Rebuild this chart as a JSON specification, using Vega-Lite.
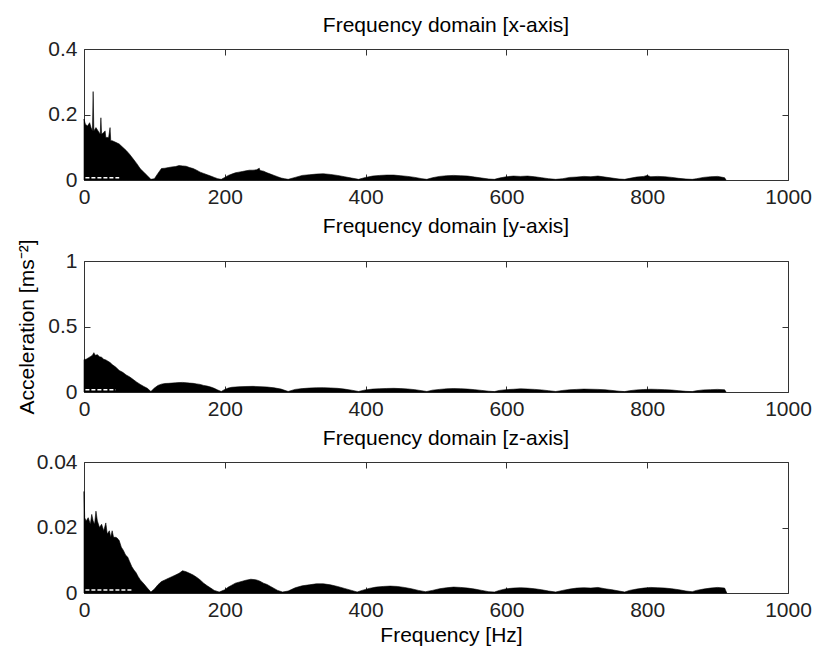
{
"$schema": "https://vega.github.io/schema/vega-lite/v6.json",
"padding": {"left": 16, "top": 14, "right": 10, "bottom": 2},
"spacing": 7,
"config": {
  "font": "Liberation Sans",
  "view": {"stroke": "#333", "strokeWidth": 1},
  "title": {"fontSize": 21, "fontWeight": "normal", "color": "#000", "offset": 2, "frame": "group", "dx": 10},
  "axis": {"grid": false, "domain": false, "tickSize": -6, "tickColor": "#333", "labelFontSize": 21, "labelColor": "#222", "labelFlush": false, "labelOverlap": false, "labelBound": false, "titleFontSize": 21, "titleFontWeight": "normal", "titleColor": "#000"},
  "axisX": {"format": "d"},
  "axisY": {"format": "~g"}
},
"datasets": {
"x": [
{"f":0,"a":0.186},{"f":2,"a":0.17},{"f":5,"a":0.165},{"f":8,"a":0.175},{"f":10,"a":0.16},{"f":12,"a":0.15},{"f":13,"a":0.27},{"f":14,"a":0.15},{"f":17,"a":0.16},{"f":20,"a":0.15},{"f":23,"a":0.14},{"f":24,"a":0.19},{"f":25,"a":0.14},{"f":28,"a":0.145},{"f":30,"a":0.15},{"f":31,"a":0.13},{"f":35,"a":0.13},{"f":37,"a":0.16},{"f":38,"a":0.12},{"f":40,"a":0.12},{"f":45,"a":0.115},{"f":50,"a":0.11},{"f":55,"a":0.1},{"f":60,"a":0.09},{"f":65,"a":0.078},{"f":70,"a":0.064},{"f":75,"a":0.05},{"f":80,"a":0.034},{"f":85,"a":0.024},{"f":90,"a":0.013},{"f":95,"a":0.002},{"f":100,"a":0.004},{"f":105,"a":0.02},{"f":110,"a":0.035},{"f":115,"a":0.036},{"f":120,"a":0.038},{"f":125,"a":0.04},{"f":130,"a":0.041},{"f":135,"a":0.044},{"f":140,"a":0.043},{"f":145,"a":0.042},{"f":150,"a":0.038},{"f":155,"a":0.035},{"f":160,"a":0.03},{"f":165,"a":0.024},{"f":170,"a":0.02},{"f":175,"a":0.016},{"f":180,"a":0.012},{"f":185,"a":0.008},{"f":190,"a":0.004},{"f":195,"a":0.002},{"f":200,"a":0.008},{"f":205,"a":0.014},{"f":210,"a":0.018},{"f":215,"a":0.022},{"f":220,"a":0.024},{"f":225,"a":0.026},{"f":230,"a":0.028},{"f":235,"a":0.03},{"f":240,"a":0.03},{"f":245,"a":0.031},{"f":249,"a":0.036},{"f":250,"a":0.029},{"f":255,"a":0.027},{"f":260,"a":0.022},{"f":265,"a":0.018},{"f":270,"a":0.014},{"f":275,"a":0.01},{"f":280,"a":0.006},{"f":285,"a":0.004},{"f":290,"a":0.002},{"f":300,"a":0.008},{"f":310,"a":0.014},{"f":320,"a":0.016},{"f":330,"a":0.018},{"f":340,"a":0.019},{"f":350,"a":0.017},{"f":360,"a":0.014},{"f":370,"a":0.01},{"f":380,"a":0.006},{"f":390,"a":0.002},{"f":400,"a":0.008},{"f":410,"a":0.012},{"f":420,"a":0.014},{"f":430,"a":0.015},{"f":440,"a":0.015},{"f":450,"a":0.013},{"f":460,"a":0.011},{"f":470,"a":0.008},{"f":480,"a":0.004},{"f":487,"a":0.002},{"f":495,"a":0.007},{"f":505,"a":0.011},{"f":515,"a":0.013},{"f":525,"a":0.014},{"f":535,"a":0.013},{"f":545,"a":0.012},{"f":555,"a":0.009},{"f":565,"a":0.006},{"f":575,"a":0.003},{"f":583,"a":0.002},{"f":590,"a":0.006},{"f":600,"a":0.01},{"f":610,"a":0.012},{"f":620,"a":0.011},{"f":630,"a":0.012},{"f":640,"a":0.01},{"f":650,"a":0.007},{"f":660,"a":0.004},{"f":670,"a":0.002},{"f":680,"a":0.004},{"f":690,"a":0.008},{"f":700,"a":0.009},{"f":710,"a":0.011},{"f":720,"a":0.01},{"f":730,"a":0.012},{"f":740,"a":0.009},{"f":750,"a":0.006},{"f":760,"a":0.003},{"f":768,"a":0.002},{"f":775,"a":0.005},{"f":785,"a":0.009},{"f":795,"a":0.011},{"f":800,"a":0.014},{"f":805,"a":0.01},{"f":815,"a":0.011},{"f":825,"a":0.01},{"f":835,"a":0.008},{"f":845,"a":0.005},{"f":855,"a":0.003},{"f":864,"a":0.002},{"f":870,"a":0.004},{"f":880,"a":0.008},{"f":890,"a":0.01},{"f":900,"a":0.011},{"f":905,"a":0.009},{"f":910,"a":0.007},{"f":912,"a":0}
],
"y": [
{"f":0,"a":0.247},{"f":3,"a":0.25},{"f":6,"a":0.26},{"f":9,"a":0.27},{"f":12,"a":0.28},{"f":14,"a":0.3},{"f":16,"a":0.28},{"f":19,"a":0.285},{"f":22,"a":0.27},{"f":25,"a":0.265},{"f":28,"a":0.25},{"f":31,"a":0.245},{"f":34,"a":0.235},{"f":37,"a":0.225},{"f":40,"a":0.21},{"f":45,"a":0.19},{"f":50,"a":0.165},{"f":55,"a":0.15},{"f":60,"a":0.13},{"f":65,"a":0.115},{"f":70,"a":0.095},{"f":75,"a":0.075},{"f":80,"a":0.058},{"f":85,"a":0.042},{"f":90,"a":0.028},{"f":95,"a":0.004},{"f":100,"a":0.03},{"f":105,"a":0.05},{"f":110,"a":0.06},{"f":115,"a":0.065},{"f":120,"a":0.066},{"f":125,"a":0.068},{"f":130,"a":0.07},{"f":135,"a":0.072},{"f":140,"a":0.073},{"f":145,"a":0.071},{"f":150,"a":0.068},{"f":155,"a":0.066},{"f":160,"a":0.062},{"f":165,"a":0.058},{"f":170,"a":0.05},{"f":175,"a":0.045},{"f":180,"a":0.038},{"f":185,"a":0.028},{"f":190,"a":0.015},{"f":195,"a":0.004},{"f":200,"a":0.02},{"f":205,"a":0.03},{"f":210,"a":0.036},{"f":220,"a":0.04},{"f":230,"a":0.042},{"f":240,"a":0.043},{"f":250,"a":0.041},{"f":260,"a":0.038},{"f":270,"a":0.032},{"f":280,"a":0.022},{"f":290,"a":0.004},{"f":300,"a":0.02},{"f":310,"a":0.026},{"f":320,"a":0.03},{"f":330,"a":0.032},{"f":340,"a":0.033},{"f":350,"a":0.031},{"f":360,"a":0.028},{"f":370,"a":0.022},{"f":380,"a":0.014},{"f":390,"a":0.004},{"f":400,"a":0.016},{"f":410,"a":0.022},{"f":420,"a":0.025},{"f":430,"a":0.027},{"f":440,"a":0.028},{"f":450,"a":0.026},{"f":460,"a":0.023},{"f":470,"a":0.018},{"f":480,"a":0.01},{"f":487,"a":0.004},{"f":495,"a":0.014},{"f":505,"a":0.02},{"f":515,"a":0.024},{"f":525,"a":0.026},{"f":535,"a":0.025},{"f":545,"a":0.022},{"f":555,"a":0.018},{"f":565,"a":0.012},{"f":575,"a":0.006},{"f":583,"a":0.003},{"f":590,"a":0.012},{"f":600,"a":0.018},{"f":610,"a":0.021},{"f":620,"a":0.024},{"f":630,"a":0.022},{"f":640,"a":0.02},{"f":650,"a":0.016},{"f":660,"a":0.01},{"f":670,"a":0.004},{"f":680,"a":0.012},{"f":690,"a":0.017},{"f":700,"a":0.02},{"f":710,"a":0.022},{"f":720,"a":0.021},{"f":730,"a":0.02},{"f":740,"a":0.017},{"f":750,"a":0.012},{"f":760,"a":0.006},{"f":768,"a":0.003},{"f":775,"a":0.01},{"f":785,"a":0.016},{"f":795,"a":0.019},{"f":805,"a":0.021},{"f":815,"a":0.02},{"f":825,"a":0.018},{"f":835,"a":0.015},{"f":845,"a":0.01},{"f":855,"a":0.005},{"f":864,"a":0.003},{"f":870,"a":0.01},{"f":880,"a":0.016},{"f":890,"a":0.018},{"f":900,"a":0.02},{"f":910,"a":0.017},{"f":912,"a":0}
],
"z": [
{"f":0,"a":0.031},{"f":1,"a":0.023},{"f":3,"a":0.022},{"f":6,"a":0.023},{"f":9,"a":0.021},{"f":11,"a":0.024},{"f":13,"a":0.022},{"f":15,"a":0.021},{"f":17,"a":0.025},{"f":19,"a":0.022},{"f":22,"a":0.02},{"f":25,"a":0.021},{"f":28,"a":0.019},{"f":31,"a":0.0214},{"f":33,"a":0.018},{"f":36,"a":0.019},{"f":38,"a":0.017},{"f":40,"a":0.019},{"f":42,"a":0.017},{"f":45,"a":0.017},{"f":47,"a":0.0168},{"f":50,"a":0.016},{"f":53,"a":0.014},{"f":56,"a":0.013},{"f":59,"a":0.0116},{"f":62,"a":0.011},{"f":65,"a":0.0095},{"f":68,"a":0.008},{"f":71,"a":0.007},{"f":74,"a":0.0062},{"f":77,"a":0.005},{"f":80,"a":0.004},{"f":85,"a":0.0028},{"f":90,"a":0.0015},{"f":95,"a":0.0003},{"f":100,"a":0.0012},{"f":105,"a":0.0025},{"f":110,"a":0.0035},{"f":115,"a":0.004},{"f":120,"a":0.0045},{"f":125,"a":0.005},{"f":130,"a":0.0055},{"f":135,"a":0.006},{"f":140,"a":0.0068},{"f":145,"a":0.0065},{"f":150,"a":0.006},{"f":155,"a":0.0055},{"f":160,"a":0.0048},{"f":165,"a":0.004},{"f":170,"a":0.003},{"f":175,"a":0.0022},{"f":180,"a":0.0015},{"f":185,"a":0.0008},{"f":192,"a":0.0003},{"f":200,"a":0.001},{"f":205,"a":0.0018},{"f":210,"a":0.0024},{"f":215,"a":0.003},{"f":220,"a":0.0033},{"f":225,"a":0.0036},{"f":230,"a":0.0039},{"f":237,"a":0.0042},{"f":245,"a":0.004},{"f":250,"a":0.0036},{"f":255,"a":0.003},{"f":260,"a":0.0026},{"f":265,"a":0.002},{"f":270,"a":0.0014},{"f":275,"a":0.0008},{"f":282,"a":0.0003},{"f":290,"a":0.0006},{"f":300,"a":0.0016},{"f":310,"a":0.0022},{"f":320,"a":0.0025},{"f":330,"a":0.0028},{"f":340,"a":0.0028},{"f":350,"a":0.0025},{"f":360,"a":0.002},{"f":370,"a":0.0014},{"f":380,"a":0.0008},{"f":388,"a":0.0003},{"f":395,"a":0.0008},{"f":405,"a":0.0014},{"f":415,"a":0.0018},{"f":425,"a":0.002},{"f":435,"a":0.0021},{"f":445,"a":0.002},{"f":455,"a":0.0017},{"f":465,"a":0.0013},{"f":475,"a":0.0008},{"f":485,"a":0.0004},{"f":495,"a":0.0008},{"f":505,"a":0.0013},{"f":515,"a":0.0016},{"f":525,"a":0.0018},{"f":535,"a":0.0017},{"f":545,"a":0.0015},{"f":555,"a":0.0012},{"f":565,"a":0.0008},{"f":575,"a":0.0004},{"f":583,"a":0.0003},{"f":590,"a":0.0008},{"f":600,"a":0.0013},{"f":610,"a":0.0015},{"f":620,"a":0.0016},{"f":630,"a":0.0015},{"f":640,"a":0.0013},{"f":650,"a":0.001},{"f":660,"a":0.0006},{"f":670,"a":0.0003},{"f":680,"a":0.0008},{"f":690,"a":0.0012},{"f":700,"a":0.0015},{"f":710,"a":0.0016},{"f":720,"a":0.0015},{"f":730,"a":0.0017},{"f":740,"a":0.0013},{"f":750,"a":0.001},{"f":760,"a":0.0006},{"f":768,"a":0.0003},{"f":775,"a":0.0008},{"f":785,"a":0.0012},{"f":795,"a":0.0015},{"f":805,"a":0.0017},{"f":815,"a":0.0016},{"f":825,"a":0.0015},{"f":835,"a":0.0013},{"f":845,"a":0.001},{"f":855,"a":0.0006},{"f":864,"a":0.0004},{"f":870,"a":0.0008},{"f":880,"a":0.0012},{"f":890,"a":0.0015},{"f":900,"a":0.0017},{"f":910,"a":0.0015},{"f":913,"a":0}
],
"xw": [{"f":2,"a":0.007},{"f":50,"a":0.007}],
"yw": [{"f":2,"a":0.017},{"f":45,"a":0.017}],
"zw": [{"f":2,"a":0.0009},{"f":68,"a":0.0009}]
},
"vconcat": [
{
  "width": 704, "height": 131,
  "title": {"text": "Frequency domain [x-axis]"},
  "resolve": {"axis": {"x": "independent", "y": "independent"}},
  "layer": [
    {"data": {"name": "x"},
     "mark": {"type": "area", "color": "#000", "stroke": "#000", "strokeWidth": 0.6},
     "encoding": {
       "x": {"field": "f", "type": "quantitative", "scale": {"domain": [0, 1000], "nice": false}, "axis": {"orient": "bottom", "values": [0,200,400,600,800,1000], "labelPadding": 12, "title": null}},
       "y": {"field": "a", "type": "quantitative", "scale": {"domain": [0, 0.4], "nice": false}, "axis": {"orient": "left", "values": [0,0.2,0.4], "labelPadding": 13, "title": null}}
     }},
    {"data": {"name": "x"},
     "mark": {"type": "point", "opacity": 0},
     "encoding": {
       "x": {"field": "f", "type": "quantitative", "axis": {"orient": "top", "values": [0,200,400,600,800,1000], "labels": false, "title": null}},
       "y": {"field": "a", "type": "quantitative", "axis": {"orient": "right", "values": [0,0.2,0.4], "labels": false, "title": null}}
     }},
    {"data": {"name": "xw"},
     "mark": {"type": "line", "color": "#fff", "strokeWidth": 1.5, "strokeDash": [4, 2]},
     "encoding": {"x": {"field": "f", "type": "quantitative", "axis": null}, "y": {"field": "a", "type": "quantitative", "axis": null}}}
  ]
},
{
  "width": 704, "height": 131,
  "title": {"text": "Frequency domain [y-axis]"},
  "resolve": {"axis": {"x": "independent", "y": "independent"}},
  "layer": [
    {"data": {"name": "y"},
     "mark": {"type": "area", "color": "#000", "stroke": "#000", "strokeWidth": 0.6},
     "encoding": {
       "x": {"field": "f", "type": "quantitative", "scale": {"domain": [0, 1000], "nice": false}, "axis": {"orient": "bottom", "values": [0,200,400,600,800,1000], "labelPadding": 12, "title": null}},
       "y": {"field": "a", "type": "quantitative", "scale": {"domain": [0, 1], "nice": false}, "axis": {"orient": "left", "values": [0,0.5,1], "labelPadding": 13, "title": "Acceleration [ms⁻²]", "titlePadding": 10}}
     }},
    {"data": {"name": "y"},
     "mark": {"type": "point", "opacity": 0},
     "encoding": {
       "x": {"field": "f", "type": "quantitative", "axis": {"orient": "top", "values": [0,200,400,600,800,1000], "labels": false, "title": null}},
       "y": {"field": "a", "type": "quantitative", "axis": {"orient": "right", "values": [0,0.5,1], "labels": false, "title": null}}
     }},
    {"data": {"name": "yw"},
     "mark": {"type": "line", "color": "#fff", "strokeWidth": 1.5, "strokeDash": [4, 2]},
     "encoding": {"x": {"field": "f", "type": "quantitative", "axis": null}, "y": {"field": "a", "type": "quantitative", "axis": null}}}
  ]
},
{
  "width": 704, "height": 131,
  "title": {"text": "Frequency domain [z-axis]"},
  "resolve": {"axis": {"x": "independent", "y": "independent"}},
  "layer": [
    {"data": {"name": "z"},
     "mark": {"type": "area", "color": "#000", "stroke": "#000", "strokeWidth": 0.6},
     "encoding": {
       "x": {"field": "f", "type": "quantitative", "scale": {"domain": [0, 1000], "nice": false}, "axis": {"orient": "bottom", "values": [0,200,400,600,800,1000], "labelPadding": 12, "title": "Frequency [Hz]", "titlePadding": 4, "titleX": 367}},
       "y": {"field": "a", "type": "quantitative", "scale": {"domain": [0, 0.04], "nice": false}, "axis": {"orient": "left", "values": [0,0.02,0.04], "labelPadding": 13, "title": null}}
     }},
    {"data": {"name": "z"},
     "mark": {"type": "point", "opacity": 0},
     "encoding": {
       "x": {"field": "f", "type": "quantitative", "axis": {"orient": "top", "values": [0,200,400,600,800,1000], "labels": false, "title": null}},
       "y": {"field": "a", "type": "quantitative", "axis": {"orient": "right", "values": [0,0.02,0.04], "labels": false, "title": null}}
     }},
    {"data": {"name": "zw"},
     "mark": {"type": "line", "color": "#fff", "strokeWidth": 1.5, "strokeDash": [4, 2]},
     "encoding": {"x": {"field": "f", "type": "quantitative", "axis": null}, "y": {"field": "a", "type": "quantitative", "axis": null}}}
  ]
}
]
}
